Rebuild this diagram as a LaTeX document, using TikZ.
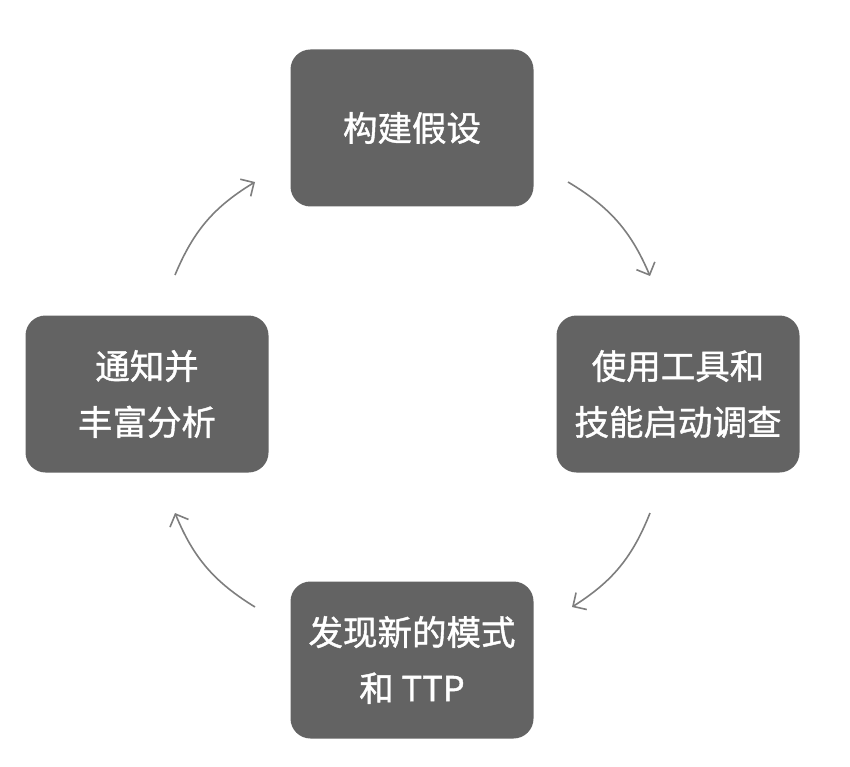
\documentclass[tikz,border=0pt]{standalone}
\usepackage{xcolor}
\usepackage{fontspec}
\usepackage{tikz}
\usetikzlibrary{arrows.meta, positioning, calc}
\newfontfamily\cjk[FakeBold=1.2]{Noto Sans CJK SC}
\definecolor{boxgray}{HTML}{636363}
\definecolor{arrowgray}{HTML}{7E7E7E}
\tikzstyle{arrow} = [line width=1.6pt, draw=arrowgray, -{Straight Barb[length=10pt, width=20pt, line width=1.6pt]}]
\tikzstyle{stage} = [rectangle, rounded corners=20pt, minimum width=243pt, minimum height=157pt, text centered, fill=boxgray, text=white, font=\cjk\fontsize{34.5}{56}\selectfont]

\begin{document}
\begin{tikzpicture}[x=1pt, y=-1pt, every node/.style={align=center}]
\useasboundingbox (0,0) rectangle (850,767);

\node[stage] (hyp) at (412,128) {构建假设};
\node[stage] (inv) at (678,394) {使用工具和\\技能启动调查};
\node[stage] (ttp) at (412,660) {发现新的模式\\和 TTP};
\node[stage] (ana) at (147,394) {通知并\\丰富分析};

% arrow ends
\coordinate (a1) at (568,182);
\coordinate (a2) at (650,276);
\coordinate (b1) at (650,513);
\coordinate (b2) at (572,607);
\coordinate (c1) at (255,607);
\coordinate (c2) at (175,513);
\coordinate (d1) at (175,275);
\coordinate (d2) at (255,182);

\draw[arrow] (a1) to[bend left=18] (a2);
\draw[arrow] (b1) to[bend left=18] (b2);
\draw[arrow] (c1) to[bend left=18] (c2);
\draw[arrow] (d1) to[bend left=18] (d2);

\end{tikzpicture}
\end{document}
